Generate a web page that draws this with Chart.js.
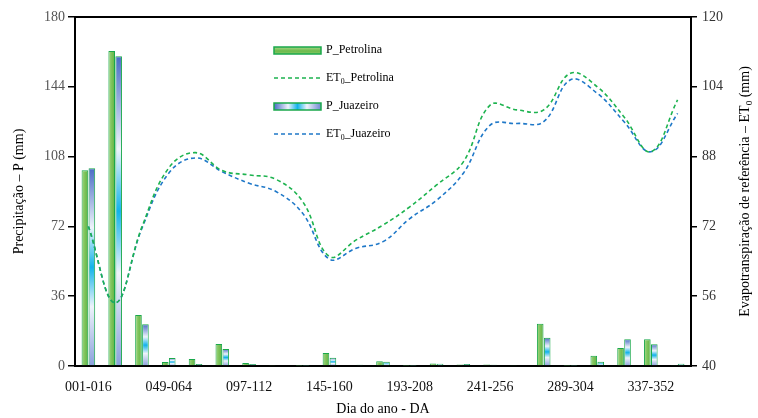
<!DOCTYPE html>
<html>
<head>
<meta charset="utf-8">
<script src="https://cdn.jsdelivr.net/npm/chart.js@4.4.1/dist/chart.umd.min.js"></script>
<style>
  body { margin: 0; background: #fff; }
  canvas { display: block; }
</style>
</head>
<body>
<canvas id="etChart" width="758" height="418"></canvas>
<script>
// 16-day periods of the year
const periods = ['001-016', '017-032', '033-048', '049-064', '065-080', '081-096', '097-112', '113-128',
    '129-144', '145-160', '161-176', '177-192', '193-208', '209-224', '225-240', '241-256',
    '257-272', '273-288', '289-304', '305-320', '321-336', '337-352', '353-365'];

// precipitation (mm)
const rainPetrolina = [101, 162.4, 26.3, 2.0, 3.6, 11.3, 1.5, 0.2, 0.1, 6.7, 0.4, 2.4,
    0.1, 1.3, 0.8, 0.8, 0.3, 21.8, 0.1, 5.3, 9.3, 13.8, 0.5];
const rainJuazeiro = [102, 159.8, 21.5, 4.1, 1.0, 8.8, 1.0, 0.4, 0.1, 4.3, 0.6, 2.2,
    0.1, 1.2, 1.0, 0.7, 0.4, 14.6, 0.1, 2.2, 13.8, 11.2, 1.2];

// reference evapotranspiration ET0 (mm)
const etPetrolina = [72.0, 54.5, 71.9, 85.4, 88.9, 84.8, 83.8, 82.8, 77.7, 65.1, 68.9, 72.3,
    76.5, 81.5, 86.8, 99.8, 98.7, 98.7, 107.1, 104.0, 97.1, 89.1, 101.0];
const etJuazeiro = [72.0, 54.5, 71.6, 84.2, 87.7, 84.5, 81.9, 80.0, 75.0, 64.5, 67.0, 68.5,
    73.8, 78.0, 84.2, 95.2, 95.6, 96.0, 105.6, 102.5, 96.0, 89.1, 97.9];

const leftTicks = [0, 36, 72, 108, 144, 180];
const rightTicks = [40, 56, 72, 88, 104, 120];

const serif = 'Liberation Serif';
const catPct = 0.52;

function greenFill(ctx) {
    const chart = ctx.chart;
    if (!chart.chartArea || ctx.type !== 'data') return '#7cc35a';
    const xs = chart.scales.x;
    const c = xs.getPixelForValue(ctx.dataIndex);
    const half = xs.width / periods.length * catPct / 2;
    const g = chart.ctx.createLinearGradient(c - half, 0, c, 0);
    g.addColorStop(0, '#a6d788');
    g.addColorStop(0.5, '#7cc35a');
    g.addColorStop(1, '#62b043');
    return g;
}

function blueFill(ctx) {
    const chart = ctx.chart;
    if (!chart.chartArea || ctx.type !== 'data') return '#7fa0dc';
    const ys = chart.scales.y;
    const top = ys.getPixelForValue(rainJuazeiro[ctx.dataIndex]);
    const bottom = ys.getPixelForValue(0);
    if (bottom - top < 2) return '#7fa0dc';
    const g = chart.ctx.createLinearGradient(0, top, 0, bottom);
    g.addColorStop(0, '#4a6cc6');
    g.addColorStop(0.3, '#eef3fb');
    g.addColorStop(0.5, '#12b3ea');
    g.addColorStop(0.7, '#eef3fb');
    g.addColorStop(1, '#8aa0dc');
    return g;
}

// text with a subscript part, parts = [[text, isSub], ...]
function drawParts(c, parts, x, y, size) {
    let total = 0;
    parts.forEach(p => {
        c.font = (p[1] ? size * 0.65 : size) + 'px "' + serif + '"';
        total += c.measureText(p[0]).width;
    });
    drawPartsLeft(c, parts, x - total / 2, y, size);
}

function drawPartsLeft(c, parts, x, y, size) {
    let cx = x;
    c.textAlign = 'left';
    c.textBaseline = 'middle';
    parts.forEach(p => {
        c.font = (p[1] ? size * 0.65 : size) + 'px "' + serif + '"';
        c.fillText(p[0], cx, p[1] ? y + size * 0.3 : y);
        cx += c.measureText(p[0]).width;
    });
}

const extras = {
    id: 'extras',
    afterDraw(chart) {
        const c = chart.ctx;
        const ca = chart.chartArea;
        c.save();
        // top frame line
        c.strokeStyle = '#000';
        c.lineWidth = 2;
        c.beginPath();
        c.moveTo(ca.left, ca.top);
        c.lineTo(ca.right, ca.top);
        c.stroke();

        // right axis title
        c.fillStyle = '#000';
        c.save();
        c.translate(745, (ca.top + ca.bottom) / 2);
        c.rotate(-Math.PI / 2);
        drawParts(c, [['Evapotranspiração de referência – ET', false], ['0', true], [' (mm)', false]], 0, 0, 14);
        c.restore();

        // legend
        const lx = 274, lw = 47, tx = 326;
        let g = c.createLinearGradient(0, 47, 0, 55);
        g.addColorStop(0, '#a6d788');
        g.addColorStop(0.5, '#6cba4b');
        g.addColorStop(1, '#8fcd70');
        c.fillStyle = g;
        c.fillRect(lx, 47, lw, 7);
        c.strokeStyle = '#1aa84b';
        c.lineWidth = 1.5;
        c.strokeRect(lx, 47, lw, 7);

        c.setLineDash([4, 3]);
        c.strokeStyle = '#1db34f';
        c.beginPath();
        c.moveTo(lx, 78);
        c.lineTo(lx + lw, 78);
        c.stroke();
        c.setLineDash([]);

        g = c.createLinearGradient(lx, 0, lx + lw, 0);
        g.addColorStop(0, '#4a6cc6');
        g.addColorStop(0.3, '#eef3fb');
        g.addColorStop(0.5, '#12b3ea');
        g.addColorStop(0.7, '#eef3fb');
        g.addColorStop(1, '#6f88d2');
        c.fillStyle = g;
        c.fillRect(lx, 103, lw, 7);
        c.strokeStyle = '#1aa84b';
        c.strokeRect(lx, 103, lw, 7);

        c.setLineDash([4, 3]);
        c.strokeStyle = '#1f78c8';
        c.beginPath();
        c.moveTo(lx, 134);
        c.lineTo(lx + lw, 134);
        c.stroke();
        c.setLineDash([]);

        c.fillStyle = '#000';
        drawPartsLeft(c, [['P_Petrolina', false]], tx, 50, 12);
        drawPartsLeft(c, [['ET', false], ['0', true], ['_Petrolina', false]], tx, 78, 12);
        drawPartsLeft(c, [['P_Juazeiro', false]], tx, 106, 12);
        drawPartsLeft(c, [['ET', false], ['0', true], ['_Juazeiro', false]], tx, 134, 12);
        c.restore();
    }
};

const ctxEt = document.getElementById('etChart').getContext('2d');
const etChart = new Chart(ctxEt, {
    type: 'bar',
    data: {
        labels: periods,
        datasets: [{
            type: 'line',
            label: 'ET0_Petrolina',
            data: etPetrolina,
            yAxisID: 'y1',
            borderColor: '#1db34f',
            borderWidth: 1.6,
            borderDash: [4, 3],
            pointRadius: 0,
            tension: 0.4,
            fill: false,
            order: 0
        }, {
            type: 'line',
            label: 'ET0_Juazeiro',
            data: etJuazeiro,
            yAxisID: 'y1',
            borderColor: '#1f78c8',
            borderWidth: 1.6,
            borderDash: [4, 3],
            pointRadius: 0,
            tension: 0.4,
            fill: false,
            order: 0
        }, {
            label: 'P_Petrolina',
            data: rainPetrolina,
            yAxisID: 'y',
            backgroundColor: greenFill,
            borderColor: '#1aa84b',
            borderWidth: 1,
            categoryPercentage: catPct,
            barPercentage: 0.95,
            order: 1
        }, {
            label: 'P_Juazeiro',
            data: rainJuazeiro,
            yAxisID: 'y',
            backgroundColor: blueFill,
            borderColor: '#1aa84b',
            borderWidth: 1,
            categoryPercentage: catPct,
            barPercentage: 0.95,
            order: 1
        }]
    },
    options: {
        responsive: false,
        animation: false,
        layout: {
            padding: { top: 17, left: 0, right: 0, bottom: 0 }
        },
        plugins: {
            legend: { display: false },
            tooltip: { enabled: false }
        },
        scales: {
            x: {
                offset: true,
                grid: { display: false, drawTicks: false },
                border: { display: true, color: '#000', width: 2 },
                ticks: {
                    autoSkip: false,
                    maxRotation: 0,
                    padding: 13,
                    color: '#111',
                    font: { family: serif, size: 14 },
                    callback: (v, i) => (i % 3 === 0 ? periods[i] : '')
                },
                title: {
                    display: true,
                    text: 'Dia do ano - DA',
                    color: '#000',
                    font: { family: serif, size: 14 },
                    padding: { top: 0, bottom: 0 }
                },
                afterFit: s => { s.height = 52; }
            },
            y: {
                position: 'left',
                min: 0,
                max: 180,
                afterBuildTicks: s => { s.ticks = leftTicks.map(v => ({ value: v })); },
                grid: { display: true, drawOnChartArea: false, tickLength: 7, color: '#000', lineWidth: 1.5 },
                border: { display: true, color: '#000', width: 2 },
                ticks: {
                    padding: 3,
                    color: '#555',
                    font: { family: serif, size: 14 }
                },
                title: {
                    display: true,
                    text: 'Precipitação – P (mm)',
                    color: '#000',
                    font: { family: serif, size: 14 },
                    padding: { top: 11, bottom: 0 }
                },
                afterFit: s => { s.width = 75; }
            },
            y1: {
                position: 'right',
                min: 40,
                max: 120,
                afterBuildTicks: s => { s.ticks = rightTicks.map(v => ({ value: v })); },
                grid: { display: true, drawOnChartArea: false, tickLength: 6, color: '#000', lineWidth: 1.5 },
                border: { display: true, color: '#000', width: 2 },
                ticks: {
                    padding: 5,
                    color: '#333',
                    font: { family: serif, size: 14 }
                },
                afterFit: s => { s.width = 67; }
            }
        }
    },
    plugins: [extras]
});
</script>
</body>
</html>
